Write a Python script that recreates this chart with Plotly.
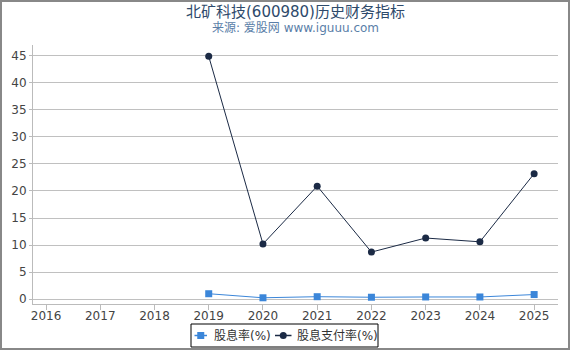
import plotly.graph_objects as go

years = ["2016", "2017", "2018", "2019", "2020", "2021", "2022", "2023", "2024", "2025"]
yield_years = [2019, 2020, 2021, 2022, 2023, 2024, 2025]
dividend_yield = [1.0, 0.25, 0.45, 0.35, 0.4, 0.4, 0.85]
payout_ratio = [44.9, 10.2, 20.9, 8.7, 11.3, 10.6, 23.2]
series_names = ["股息率(%)", "股息支付率(%)"]
series_colors = ["#3b86d9", "#1b2a45"]

fig = go.Figure()
fig.add_trace(go.Scatter(
    x=yield_years, y=dividend_yield, name=series_names[0], mode="lines+markers",
    line=dict(color=series_colors[0], width=1),
    marker=dict(symbol="square", size=7, color=series_colors[0]),
))
fig.add_trace(go.Scatter(
    x=yield_years, y=payout_ratio, name=series_names[1], mode="lines+markers",
    line=dict(color=series_colors[1], width=1),
    marker=dict(symbol="circle", size=7, color=series_colors[1]),
))

font_family = "DejaVu Sans, Noto Sans CJK SC, sans-serif"
ML, MR, MT, MB = 33, 12, 45, 46
PW, PH = 570 - ML - MR, 350 - MT - MB


def px(x):
    return (x - ML) / PW


def py(y):
    return 1 - (y - MT) / PH


fig.update_layout(
    width=570, height=350,
    margin=dict(l=ML, r=MR, t=MT, b=MB, autoexpand=False),
    paper_bgcolor="white", plot_bgcolor="white",
    font=dict(family=font_family, size=12, color="#444444"),
    showlegend=False,
    xaxis=dict(
        range=[2015.76, 2025.44], tickmode="array",
        tickvals=[int(y) for y in years], ticktext=years,
        showgrid=False, showline=True, linecolor="#bbbbbb", linewidth=1,
        ticks="outside", tickcolor="#bbbbbb", ticklen=5, ticklabelstandoff=-4,
        tickfont=dict(size=12, color="#444444"), zeroline=False,
    ),
    yaxis=dict(
        range=[-0.9, 47], tickmode="array", tickvals=[0, 5, 10, 15, 20, 25, 30, 35, 40, 45],
        showgrid=True, gridcolor="#c0c0c0", gridwidth=1,
        showline=True, linecolor="#bbbbbb", linewidth=1,
        ticks="outside", tickcolor="#bbbbbb", ticklen=3,
        tickfont=dict(size=12, color="#444444"), zeroline=False,
    ),
)

annotations = [
    dict(text="北矿科技(600980)历史财务指标", x=0.5, y=py(12), xref="paper", yref="paper",
         xanchor="center", yanchor="middle", showarrow=False,
         font=dict(size=15, color="#2e4a6b", family=font_family)),
    dict(text="来源: 爱股网 www.iguuu.com", x=0.5, y=py(28), xref="paper", yref="paper",
         xanchor="center", yanchor="middle", showarrow=False,
         font=dict(size=12, color="#5a7ea8", family=font_family)),
]
shapes = []
# outer frame
shapes.append(dict(type="rect", xref="paper", yref="paper",
                   x0=px(1), x1=px(569), y0=py(349), y1=py(1),
                   line=dict(color="#888888", width=2)))
# custom legend box
ly = 335.5
shapes.append(dict(type="rect", xref="paper", yref="paper",
                   x0=px(191), x1=px(378), y0=py(347), y1=py(324),
                   line=dict(color="#000000", width=1), fillcolor="white", layer="above"))
legend_items = [(194.5, 207, 212), (275, 291.5, 295)]
symbols = ["square", "circle"]
for i, (lx0, lx1, tx) in enumerate(legend_items):
    c = series_colors[i]
    shapes.append(dict(type="line", xref="paper", yref="paper",
                       x0=px(lx0), x1=px(lx1), y0=py(ly), y1=py(ly),
                       line=dict(color=c, width=1.5), layer="above"))
    cx = (lx0 + lx1) / 2
    r = 3.5
    shapes.append(dict(type="rect" if symbols[i] == "square" else "circle",
                       xref="paper", yref="paper",
                       x0=px(cx - r), x1=px(cx + r), y0=py(ly + r), y1=py(ly - r),
                       line=dict(color=c, width=0), fillcolor=c, layer="above"))
    annotations.append(dict(text=series_names[i], x=px(tx), y=py(ly), xref="paper", yref="paper",
                            xanchor="left", yanchor="middle", showarrow=False,
                            font=dict(size=12, color="#333333", family=font_family)))

fig.update_layout(annotations=annotations, shapes=shapes)
fig.write_html("out.html")
